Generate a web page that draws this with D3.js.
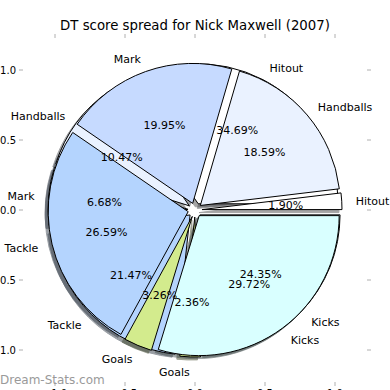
<!DOCTYPE html>
<html>
<head>
<meta charset="utf-8">
<script src="https://cdn.jsdelivr.net/npm/d3@7"></script>
<style>
  body { margin: 0; background: #fff; }
  svg { display: block; font-family: "DejaVu Sans", sans-serif; }
</style>
</head>
<body>
<svg id="chart" width="390" height="390"></svg>
<script>
// categories in drawing order (counter-clockwise from 3 o'clock)
var categories = ["Hitout", "Handballs", "Mark", "Tackle", "Goals", "Kicks"];
// two seasons of percentages, the back pie is drawn first
var backValues = [34.69, 10.47, 6.68, 21.47, 2.36, 24.35];
var frontValues = [1.90, 18.59, 19.95, 26.59, 3.26, 29.72];
var tickValues = [-1.0, -0.5, 0.0, 0.5, 1.0];
var sliceColors = ["#ffffff", "#eaf2ff", "#c6daff", "#b4d4fe", "#d3eb8d", "#d9ffff"];

var svg = d3.select("#chart");

// data units -> pixels (pie radius 1.0)
var x = d3.scaleLinear().domain([-1, 1]).range([55, 335]);
var y = d3.scaleLinear().domain([-1, 1]).range([350, 70]);
var color = d3.scaleOrdinal().domain(categories).range(sliceColors);

var r = x(1) - x(0);
var explode = x(0.05) - x(0);
var cx = x(0), cy = y(0);

// counter-clockwise from 3 o'clock, like matplotlib
var pie = d3.pie()
    .sort(null)
    .startAngle(Math.PI / 2)
    .endAngle(Math.PI / 2 - 2 * Math.PI);

var arc = d3.arc().innerRadius(0).outerRadius(r);

function shade(c) {
    var rgb = d3.rgb(c);
    return d3.rgb(rgb.r * 0.3, rgb.g * 0.3, rgb.b * 0.3).toString();
}

function build(values) {
    return pie(values).map(function (d, i) {
        var a = (d.startAngle + d.endAngle) / 2;
        return {
            arc: d,
            name: categories[i],
            value: values[i],
            dx: Math.sin(a),
            dy: -Math.cos(a)
        };
    });
}

var back = build(backValues);
var front = build(frontValues);
var all = back.concat(front);

// axis ticks (faint, no frame)
var tickColor = "#b0b0b0";
var ticks = svg.append("g");
tickValues.forEach(function (t) {
    ticks.append("line").attr("x1", 19).attr("x2", 23).attr("y1", y(t)).attr("y2", y(t))
        .attr("stroke", tickColor);
    ticks.append("line").attr("x1", 367).attr("x2", 371).attr("y1", y(t)).attr("y2", y(t))
        .attr("stroke", tickColor);
    ticks.append("line").attr("x1", x(t)).attr("x2", x(t)).attr("y1", 34).attr("y2", 38)
        .attr("stroke", tickColor);
    ticks.append("line").attr("x1", x(t)).attr("x2", x(t)).attr("y1", 382).attr("y2", 386)
        .attr("stroke", tickColor);
    ticks.append("text")
        .attr("x", 16).attr("y", y(t))
        .attr("dy", "0.35em")
        .attr("text-anchor", "end")
        .attr("font-size", "10px")
        .text(t.toFixed(1).replace("-", "\u2212"));
    ticks.append("text")
        .attr("x", x(t)).attr("y", 397)
        .attr("text-anchor", "middle")
        .attr("font-size", "10px")
        .text(t.toFixed(1).replace("-", "\u2212"));
});

// shadows go under every wedge
svg.append("g").selectAll("path")
    .data(all)
    .enter()
    .append("path")
    .attr("d", function (d) { return arc(d.arc); })
    .attr("transform", function (d) {
        return "translate(" + (cx + d.dx * explode - 3) + "," + (cy + d.dy * explode + 3) + ")";
    })
    .attr("fill", function (d) { return shade(color(d.name)); })
    .attr("stroke", function (d) { return shade(color(d.name)); })
    .attr("opacity", 0.5);

// wedges: back pie, then front pie
svg.append("g").selectAll("path")
    .data(all)
    .enter()
    .append("path")
    .attr("d", function (d) { return arc(d.arc); })
    .attr("transform", function (d) {
        return "translate(" + (cx + d.dx * explode) + "," + (cy + d.dy * explode) + ")";
    })
    .attr("fill", function (d) { return color(d.name); })
    .attr("stroke", "#000")
    .attr("stroke-width", 1)
    .attr("stroke-linejoin", "round");

// labels at 1.1 r, percentages at 0.6 r
var texts = svg.append("g").attr("font-size", "11px").attr("fill", "#000");

texts.selectAll(".lbl")
    .data(all)
    .enter()
    .append("text")
    .attr("class", "lbl")
    .attr("x", function (d) { return cx + d.dx * (explode + 1.1 * r); })
    .attr("y", function (d) { return cy + 1 + d.dy * (explode + 1.1 * r); })
    .attr("dy", "0.35em")
    .attr("text-anchor", function (d) { return d.dx > 0 ? "start" : "end"; })
    .text(function (d) { return d.name; });

texts.selectAll(".pct")
    .data(all)
    .enter()
    .append("text")
    .attr("class", "pct")
    .attr("x", function (d) { return cx + d.dx * (explode + 0.6 * r); })
    .attr("y", function (d) { return cy + 1 + d.dy * (explode + 0.6 * r); })
    .attr("dy", "0.35em")
    .attr("text-anchor", "middle")
    .text(function (d) { return d.value.toFixed(2) + "%"; });

// title
svg.append("text")
    .attr("x", 195).attr("y", 30)
    .attr("text-anchor", "middle")
    .attr("font-size", "13.3px")
    .text("DT score spread for Nick Maxwell (2007)");

// watermark
svg.append("text")
    .attr("x", 0).attr("y", 384)
    .attr("font-size", "12px")
    .attr("fill", "#9a9a9a")
    .text("Dream-Stats.com");
</script>
</body>
</html>
